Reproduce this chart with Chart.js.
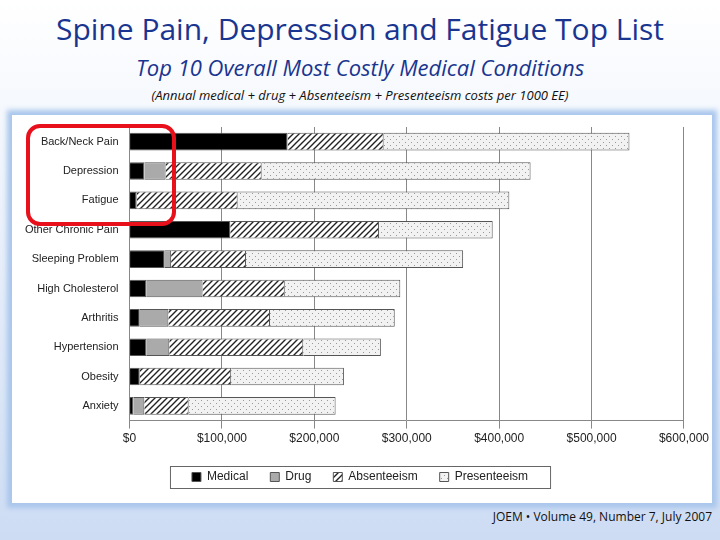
<!DOCTYPE html>
<html>
<head>
<meta charset="utf-8">
<script src="https://cdn.jsdelivr.net/npm/chart.js@4"></script>
<style>
  body { margin:0; width:720px; height:540px; overflow:hidden; position:relative;
    background:linear-gradient(#ffffff 0%, #e6eefa 50%, #cddcf3 100%); font-family:"Open Sans","Liberation Sans",sans-serif; }
  .t1 { position:absolute; top:8px; width:720px; text-align:center; font-size:30px; color:#1a3590; }
  .t2 { position:absolute; top:52px; width:720px; text-align:center; font-size:22px; font-style:italic; color:#1a3590; }
  .t3 { position:absolute; top:86px; width:720px; text-align:center; font-size:13px; font-style:italic; color:#111; }
  .panel { position:absolute; left:12px; top:115px; width:700px; height:388px; background:#fff;
    box-shadow:0 0 5px 5px #a9c6ec; }
  .foot { position:absolute; right:8px; top:508px; font-size:12px; color:#111; }
  .ring { position:absolute; left:26px; top:124px; width:142px; height:94px; border:4px solid #e8101a; border-radius:14px; }
</style>
</head>
<body>
<div class="t1">Spine Pain, Depression and Fatigue Top List</div>
<div class="t2">Top 10 Overall Most Costly Medical Conditions</div>
<div class="t3">(Annual medical + drug + Absenteeism + Presenteeism costs per 1000 EE)</div>
<div class="panel"><canvas id="c" width="700" height="388"></canvas></div>
<div class="ring"></div>
<div class="foot">JOEM • Volume 49, Number 7, July 2007</div>
<script>
const conditions = ["Back/Neck Pain","Depression","Fatigue","Other Chronic Pain","Sleeping Problem","High Cholesterol","Arthritis","Hypertension","Obesity","Anxiety"];
const medical      = [171000, 16000,  7000, 109000, 38000, 18000, 11000, 18000, 11000,  4000];
const drug         = [     0, 23000,  1000,      0,  7000, 61000, 31000, 25000,     0, 12000];
const absenteeism  = [104000,104000,109000, 161000, 81000, 89000,110000,145000, 99000, 48000];
const presenteeism = [266000,291000,294000, 123000,235000,125000,135000, 84000,122000,159000];

function pattern(kind) {
  const p = document.createElement("canvas"); p.width = 6; p.height = 6;
  const g = p.getContext("2d");
  if (kind === "hatch") {
    g.fillStyle = "#fff"; g.fillRect(0,0,6,6);
    g.strokeStyle = "#222"; g.lineWidth = 1.4;
    g.beginPath(); g.moveTo(0,6); g.lineTo(6,0); g.moveTo(-3,3); g.lineTo(3,-3); g.moveTo(3,9); g.lineTo(9,3); g.stroke();
  } else {
    g.fillStyle = "#f2f2f2"; g.fillRect(0,0,6,6);
    g.fillStyle = "#999"; g.fillRect(0,0,1,1); g.fillRect(3,3,1,1);
  }
  return g.createPattern(p, "repeat");
}

// frame around the legend, as in the original
const legendFrame = {
  id: "legendFrame",
  afterDraw(chart) {
    const boxes = chart.legend.legendHitBoxes;
    if (!boxes || !boxes.length) return;
    const l = boxes[0].left - 22, r = boxes[boxes.length-1].left + boxes[boxes.length-1].width + 22;
    const t = boxes[0].top - 5, b = boxes[0].top + boxes[0].height + 5;
    const ctx = chart.ctx;
    ctx.save(); ctx.strokeStyle = "#666"; ctx.lineWidth = 1;
    ctx.strokeRect(l + 0.5, t + 0.5, r - l, b - t); ctx.restore();
  }
};

const common = { borderColor:"#555", borderWidth:1, barPercentage:0.6, categoryPercentage:1 };
new Chart(document.getElementById("c"), {
  type: "bar",
  data: {
    labels: conditions,
    datasets: [
      { label:"Medical", data:medical, backgroundColor:"#000", ...common },
      { label:"Drug", data:drug, backgroundColor:"#aaa", ...common },
      { label:"Absenteeism", data:absenteeism, backgroundColor:pattern("hatch"), ...common },
      { label:"Presenteeism", data:presenteeism, backgroundColor:pattern("dots"), ...common }
    ]
  },
  options: {
    indexAxis: "y",
    responsive: false,
    animation: false,
    layout: { padding: { left:10, right:14, top:12, bottom:10 } },
    scales: {
      x: { stacked:true, min:0, max:600000,
        ticks: { stepSize:100000, color:"#222", font:{ family:"Liberation Sans", size:12 },
          callback: v => "$" + v.toLocaleString("en-US") },
        grid: { color:"#888" }, border: { color:"#888" } },
      y: { stacked:true,
        ticks: { color:"#222", font:{ family:"Liberation Sans", size:11 } },
        grid: { display:false }, border: { color:"#888" } }
    },
    plugins: {
      tooltip: { enabled:false },
      legend: { position:"bottom",
        labels: { boxWidth:9, boxHeight:9, color:"#222", padding:22, font:{ family:"Liberation Sans", size:12 } } }
    }
  },
  plugins: [legendFrame]
});
</script>
</body>
</html>
